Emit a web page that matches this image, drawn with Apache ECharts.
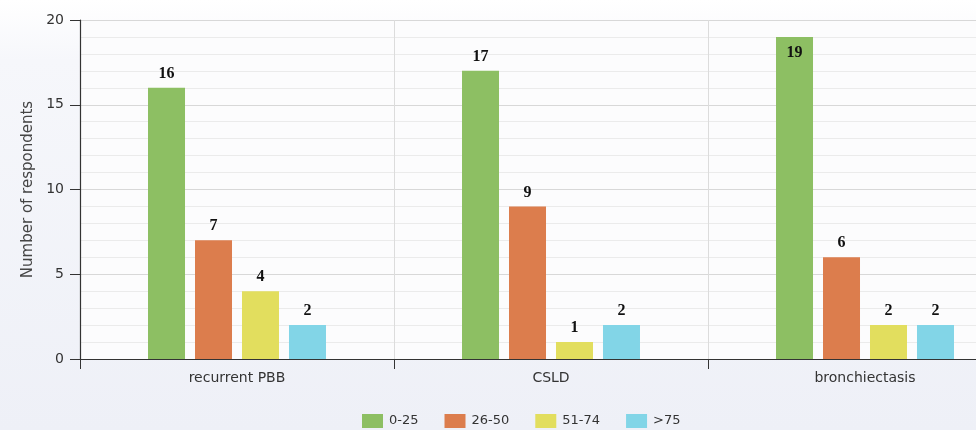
<!DOCTYPE html>
<html><head><meta charset="utf-8">
<script src="https://cdn.jsdelivr.net/npm/echarts@6/dist/echarts.min.js"></script>
<style>
html,body{margin:0;padding:0;overflow:hidden;width:976px;height:430px;}
#c{width:1040px;height:430px;background:linear-gradient(#ffffff 0px,#f6f7fb 60px,#eef0f7 430px);}
</style></head>
<body><div id="c"></div>
<script>
const categories = ['recurrent PBB', 'CSLD', 'bronchiectasis'];
const seriesNames = ['0-25', '26-50', '51-74', '>75'];
const s0_25 = [16, 17, 19];
const s26_50 = [7, 9, 6];
const s51_74 = [4, 1, 2];
const s75 = [2, 2, 2];
const yTicks = [0, 5, 10, 15, 20];
const colors = ['#8dbf63', '#dc7d4d', '#e2de5e', '#82d5e7'];

const allValues = [s0_25, s26_50, s51_74, s75];
const chart = echarts.init(document.getElementById('c'));
const labelStyle = {show: true, position: 'top', fontFamily: 'Liberation Serif', fontWeight: 'bold', fontSize: 16, color: '#111', distance: 6};
chart.setOption({
  animation: false,
  grid: {left: 80, top: 20, height: 339, width: 942, show: true, backgroundColor: '#fcfcfd', borderWidth: 0},
  legend: {
    data: seriesNames, left: 357, top: 409, itemWidth: 21, itemHeight: 14, itemGap: 26,
    icon: 'rect', textStyle: {fontFamily: 'DejaVu Sans', fontSize: 13, color: '#333', padding: [0,0,0,1]}
  },
  xAxis: {
    type: 'category', data: categories,
    axisLine: {lineStyle: {color: '#333', width: 1.2}},
    axisTick: {show: true, length: 10, lineStyle: {color: '#333'}},
    axisLabel: {fontFamily: 'DejaVu Sans', fontSize: 14, color: '#333', margin: 12},
    splitLine: {show: true, lineStyle: {color: '#dcdcdc'}}
  },
  yAxis: {
    type: 'value', min: yTicks[0], max: yTicks[yTicks.length-1], interval: 5,
    name: 'Number of respondents', nameLocation: 'middle', nameGap: 44,
    nameTextStyle: {fontFamily: 'DejaVu Sans', fontSize: 15, color: '#444'},
    axisLine: {show: true, lineStyle: {color: '#333', width: 1.2}},
    axisTick: {show: true, length: 10, lineStyle: {color: '#333'}},
    axisLabel: {fontFamily: 'DejaVu Sans', fontSize: 14, color: '#333', margin: 16},
    splitLine: {show: true, lineStyle: {color: '#d8d8d8'}},
    minorTick: {show: false, splitNumber: 5},
    minorSplitLine: {show: true, lineStyle: {color: '#ebebeb'}}
  },
  series: seriesNames.map((n, i) => ({
    name: n, type: 'bar', barWidth: 37, barGap: '27%',
    itemStyle: {color: colors[i]},
    label: labelStyle,
    data: allValues[i].map(v => v >= 19 ? {value: v, label: {position: 'insideTop', distance: 8}} : v)
  }))
});
</script></body></html>
